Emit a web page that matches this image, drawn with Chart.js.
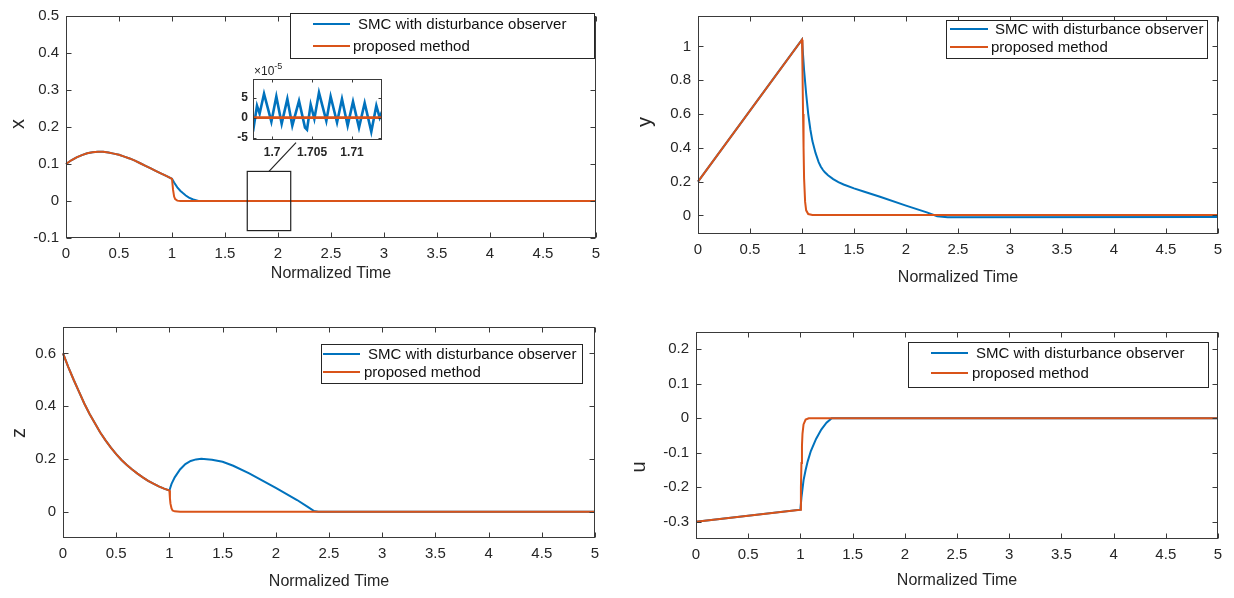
<!DOCTYPE html>
<html><head><meta charset="utf-8">
<script src="https://cdn.jsdelivr.net/npm/chart.js@4.4.1/dist/chart.umd.min.js"></script>
<style>
html,body{margin:0;padding:0;background:#fff;}
#wrap{position:relative;width:1234px;height:598px;overflow:hidden;background:#fff;}
canvas{position:absolute;}
</style></head><body>
<div id="wrap">
<canvas id="cX" width="617" height="298" style="left:0;top:0"></canvas>
<canvas id="cY" width="614" height="298" style="left:620px;top:0"></canvas>
<canvas id="cZ" width="617" height="298" style="left:0;top:300px"></canvas>
<canvas id="cU" width="614" height="298" style="left:620px;top:300px"></canvas>
<canvas id="cIn" width="166" height="102" style="left:222px;top:60px"></canvas>
</div>
<script>
// ---------- data ----------
const seriesLabels = ['SMC with disturbance observer', 'proposed method'];
const xTicks = [0,0.5,1,1.5,2,2.5,3,3.5,4,4.5,5];

// x(t)
const tXsmc = [0,0.05,0.1,0.15,0.2,0.25,0.3,0.35,0.4,0.45,0.5,0.55,0.6,0.65,0.7,0.75,0.8,0.85,0.9,0.95,1.0,1.02,1.05,1.08,1.1,1.13,1.16,1.2,1.25,5];
const xSMC  = [0.100,0.110,0.118,0.124,0.129,0.132,0.133,0.133,0.131,0.128,0.125,0.120,0.115,0.109,0.102,0.095,0.088,0.081,0.074,0.067,0.060,0.050,0.037,0.027,0.022,0.015,0.009,0.004,0,0];
const tXpro = [0,0.05,0.1,0.15,0.2,0.25,0.3,0.35,0.4,0.45,0.5,0.55,0.6,0.65,0.7,0.75,0.8,0.85,0.9,0.95,1.0,1.01,1.02,1.03,1.05,1.08,5];
const xPro  = [0.100,0.110,0.118,0.124,0.129,0.132,0.133,0.133,0.131,0.128,0.125,0.120,0.115,0.109,0.102,0.095,0.088,0.081,0.074,0.067,0.060,0.030,0.012,0.005,0.001,0,0];
const yTicksX = [-0.1,0,0.1,0.2,0.3,0.4,0.5];

// inset of x(t), values in units of 1e-5
const tInset   = [1.6976,1.6981,1.69843,1.69898,1.6999,1.70052,1.70119,1.7019,1.70252,1.70336,1.70411,1.70436,1.70482,1.70528,1.70586,1.70678,1.70732,1.70812,1.70874,1.70945,1.71012,1.71087,1.71158,1.71241,1.71304,1.71346,1.71375];
const insetSMC = [-3.5,3,1,6,-1,5.3,-1.5,4.7,-2,4.2,-2.5,-3,3.3,-0.3,6.3,-0.8,5.3,-1.2,4.7,-2,4,-2.5,3.7,-3.5,3,0,1.5];
const tInsetPro = [1.6976,1.71375];
const insetPro  = [0,0];
const insetXTicks = [1.7,1.705,1.71];
const insetYTicks = [-5,0,5];

// y(t)
const tYsmc = [0,1.0,1.01,1.02,1.04,1.06,1.08,1.1,1.13,1.16,1.18,1.2,1.22,1.25,1.3,1.35,1.4,1.5,1.6,1.75,2.0,2.2,2.3,2.4,5];
const ySMC  = [0.2,1.04,0.95,0.86,0.72,0.6,0.51,0.44,0.37,0.315,0.29,0.27,0.255,0.238,0.215,0.197,0.183,0.16,0.14,0.11,0.058,0.018,-0.005,-0.011,-0.01];
const tYpro = [0,1.0,1.005,1.01,1.015,1.02,1.03,1.04,1.06,1.1,5];
const yPro  = [0.2,1.04,0.85,0.6,0.4,0.22,0.08,0.03,0.008,0.002,0.002];
const yTicksY = [0,0.2,0.4,0.6,0.8,1];

// z(t)
const tZcommon = [0,0.05,0.1,0.15,0.2,0.25,0.3,0.35,0.4,0.45,0.5,0.55,0.6,0.65,0.7,0.75,0.8,0.85,0.9,0.95,1.0];
const zCommon  = [0.6,0.548,0.5,0.455,0.41,0.37,0.335,0.30,0.27,0.243,0.218,0.196,0.177,0.16,0.144,0.13,0.117,0.106,0.096,0.087,0.08];
const tZsmcTail = [1.02,1.05,1.1,1.15,1.2,1.25,1.3,1.35,1.4,1.5,1.6,1.75,2.0,2.2,2.3,2.36,2.4,5];
const zSMCtail  = [0.105,0.13,0.16,0.18,0.192,0.198,0.2,0.199,0.197,0.189,0.174,0.145,0.09,0.044,0.018,0.002,0,0];
const tZproTail = [1.005,1.01,1.02,1.03,1.05,1.1,5];
const zProTail  = [0.05,0.03,0.012,0.004,0.001,0,0];
const yTicksZ = [0,0.2,0.4,0.6];

// u(t)
const tUsmc = [0,1.0,1.01,1.03,1.05,1.07,1.1,1.15,1.2,1.25,1.3,5];
const uSMC  = [-0.3,-0.265,-0.23,-0.18,-0.15,-0.125,-0.095,-0.06,-0.033,-0.013,0,0];
const tUpro = [0,1.0,1.005,1.01,1.015,1.02,1.03,1.05,1.08,5];
const uPro  = [-0.3,-0.265,-0.2,-0.13,-0.08,-0.045,-0.018,-0.004,0,0];
const yTicksU = [-0.3,-0.2,-0.1,0,0.1,0.2];

// zoom marker in x(t) plot: rectangle [t0,t1,v0,v1] and connector [t,v,t,v]
const zoomRect = [1.71,2.12,-0.08,0.08];
const zoomLink = [1.915,0.08,2.17,0.158];

// ---------- drawing ----------
const BLUE = '#0072BD', ORANGE = '#D95319';
const TXT = '#262626', AX = '#3a3a3a';
const FONT = "'Liberation Sans', Arial, Helvetica, sans-serif";

function pts(t, v){ return t.map((x,i)=>({x:x, y:v[i]})); }
function fmt(v){ return String(Number(v.toFixed(4))); }

function line(ctx,x1,y1,x2,y2){ ctx.beginPath(); ctx.moveTo(x1,y1); ctx.lineTo(x2,y2); ctx.stroke(); }

function makePlugin(c){
  return {
    id:'matlab_'+c.id,
    beforeDatasetsDraw(chart){
      const {ctx, chartArea:a} = chart;
      ctx.save(); ctx.fillStyle='#fff'; ctx.fillRect(a.left,a.top,a.right-a.left,a.bottom-a.top); ctx.restore();
    },
    afterDatasetsDraw(chart){
      const {ctx, chartArea:a, scales:{x,y}} = chart;
      ctx.save();
      ctx.strokeStyle = AX; ctx.lineWidth = 1;
      const L = Math.round(a.left)+0.5, R = Math.round(a.right)-0.5, T = Math.round(a.top)+0.5, B = Math.round(a.bottom)-0.5;
      ctx.strokeRect(L, T, R-L, B-T);
      const tl = c.tickLen || 5;
      x.ticks.forEach(t=>{ const p = Math.round(x.getPixelForValue(t.value))+0.5; line(ctx,p,B,p,B-tl); line(ctx,p,T,p,T+tl); });
      y.ticks.forEach(t=>{ const p = Math.round(y.getPixelForValue(t.value))+0.5; line(ctx,L,p,L+tl,p); line(ctx,R,p,R-tl,p); });
      if (c.rect){
        const r = c.rect, k = c.link;
        ctx.strokeStyle = '#222'; ctx.lineWidth = 1.2;
        const x0 = x.getPixelForValue(r[0]), x1 = x.getPixelForValue(r[1]);
        const y0 = y.getPixelForValue(r[2]), y1 = y.getPixelForValue(r[3]);
        ctx.strokeRect(x0, y1, x1-x0, y0-y1);
        line(ctx, x.getPixelForValue(k[0]), y.getPixelForValue(k[1]), x.getPixelForValue(k[2]), y.getPixelForValue(k[3]));
      }
      if (c.exp){
        ctx.fillStyle = TXT; ctx.textBaseline='alphabetic'; ctx.textAlign='left';
        ctx.font = '12px '+FONT; ctx.fillText('\u00d710', c.exp[0], c.exp[1]);
        const w = ctx.measureText('\u00d710').width;
        ctx.font = '9px '+FONT; ctx.fillText('-5', c.exp[0]+w, c.exp[1]-6);
      }
      if (c.ylabel){
        ctx.fillStyle = TXT; ctx.font = '20px '+FONT; ctx.textAlign='center'; ctx.textBaseline='middle';
        ctx.save(); ctx.translate(c.ylabelPos[0], c.ylabelPos[1]); ctx.rotate(-Math.PI/2); ctx.fillText(c.ylabel,0,0); ctx.restore();
      }
      if (c.xlabel){
        ctx.fillStyle = TXT; ctx.font = '16px '+FONT; ctx.textAlign='center'; ctx.textBaseline='middle';
        ctx.fillText(c.xlabel, (a.left+a.right)/2, c.xlabelY);
      }
      ctx.restore();
    },
    afterDraw(chart){
      if (!c.legend) return;
      const g = c.legend, ctx = chart.ctx;
      ctx.save();
      ctx.fillStyle = '#fff'; ctx.fillRect(g.box[0], g.box[1], g.box[2]-g.box[0], g.box[3]-g.box[1]);
      ctx.strokeStyle = '#262626'; ctx.lineWidth = 1;
      ctx.strokeRect(g.box[0]+0.5, g.box[1]+0.5, g.box[2]-g.box[0], g.box[3]-g.box[1]);
      ctx.font = '15px '+FONT; ctx.textBaseline='middle'; ctx.textAlign='left';
      chart.data.datasets.forEach((ds,i)=>{
        const row = g.rows[i];
        ctx.strokeStyle = ds.borderColor; ctx.lineWidth = 2.2;
        line(ctx, g.line[0], row[0], g.line[1], row[0]);
        ctx.fillStyle = '#111';
        ctx.fillText(ds.label, row[1], row[0]+1);
      });
      ctx.restore();
    }
  };
}

function makeChart(c){
  const ds = c.series.map(s=>({
    label:s.label, data:pts(s.t,s.v), borderColor:s.color, backgroundColor:s.color,
    borderWidth:s.width||2, pointRadius:0, tension:0, fill:false, order:s.order, clip:c.clip||false
  }));
  return new Chart(document.getElementById(c.id), {
    type:'line',
    data:{datasets:ds},
    options:{
      responsive:false, animation:false, events:[],
      layout:{padding:{left:0, top:c.padTop, right:c.padRight, bottom:0}},
      plugins:{legend:{display:false}, tooltip:{enabled:false}},
      scales:{
        x:{type:'linear', min:c.xMin, max:c.xMax,
           grid:{display:false, drawTicks:false}, border:{display:false},
           afterBuildTicks:s=>{ s.ticks = c.xTicks.map(v=>({value:v})); },
           afterFit:s=>{ s.height = c.xHeight; },
           ticks:{autoSkip:false, maxRotation:0, padding:c.xPad, color:TXT,
                  font:{family:FONT, size:c.tickSize, weight:c.tickWeight||'normal'}, callback:v=>fmt(v)}},
        y:{type:'linear', min:c.yMin, max:c.yMax,
           grid:{display:false, drawTicks:false}, border:{display:false},
           afterBuildTicks:s=>{ s.ticks = c.yTicks.map(v=>({value:v})); },
           afterFit:s=>{ s.width = c.yWidth; },
           ticks:{autoSkip:false, padding:c.yPad, color:TXT,
                  font:{family:FONT, size:c.tickSize, weight:c.tickWeight||'normal'}, callback:v=>fmt(v)}}
      }
    },
    plugins:[makePlugin(c)]
  });
}

// top-left: x
makeChart({id:'cX', xMin:0, xMax:5, yMin:-0.1, yMax:0.5, xTicks:xTicks, yTicks:yTicksX,
  yWidth:66, xHeight:60, padTop:10, padRight:21, xPad:7, yPad:7, tickSize:15,
  series:[{label:seriesLabels[0], t:tXsmc, v:xSMC, color:BLUE, order:1},
          {label:seriesLabels[1], t:tXpro, v:xPro, color:ORANGE, order:0}],
  ylabel:'x', ylabelPos:[18,124], xlabel:'Normalized Time', xlabelY:274,
  rect:zoomRect, link:zoomLink,
  legend:{box:[290,13,594,58], line:[313,350], rows:[[24,358],[46,353]]}});

// top-right: y
makeChart({id:'cY', xMin:0, xMax:5, yMin:-0.11, yMax:1.18, xTicks:xTicks, yTicks:yTicksY,
  yWidth:78, xHeight:64, padTop:9, padRight:16, xPad:7, yPad:7, tickSize:15,
  series:[{label:seriesLabels[0], t:tYsmc, v:ySMC, color:BLUE, order:1},
          {label:seriesLabels[1], t:tYpro, v:yPro, color:ORANGE, order:0}],
  ylabel:'y', ylabelPos:[25,122], xlabel:'Normalized Time', xlabelY:278,
  legend:{box:[326,20,587,58], line:[330,368], rows:[[29,375],[47,371]]}});

// bottom-left: z
makeChart({id:'cZ', xMin:0, xMax:5, yMin:-0.1, yMax:0.7, xTicks:xTicks, yTicks:yTicksZ,
  yWidth:63, xHeight:60, padTop:27, padRight:22, xPad:7, yPad:7, tickSize:15,
  series:[{label:seriesLabels[0], t:tZcommon.concat(tZsmcTail), v:zCommon.concat(zSMCtail), color:BLUE, order:1},
          {label:seriesLabels[1], t:tZcommon.concat(tZproTail), v:zCommon.concat(zProTail), color:ORANGE, order:0}],
  ylabel:'z', ylabelPos:[19,133], xlabel:'Normalized Time', xlabelY:282,
  legend:{box:[321,44,582,83], line:[323,360], rows:[[54,368],[72,364]]}});

// bottom-right: u
makeChart({id:'cU', xMin:0, xMax:5, yMin:-0.35, yMax:0.25, xTicks:xTicks, yTicks:yTicksU,
  yWidth:76, xHeight:59, padTop:32, padRight:16, xPad:7, yPad:7, tickSize:15,
  series:[{label:seriesLabels[0], t:tUsmc, v:uSMC, color:BLUE, order:1},
          {label:seriesLabels[1], t:tUpro, v:uPro, color:ORANGE, order:0}],
  ylabel:'u', ylabelPos:[19,167], xlabel:'Normalized Time', xlabelY:281,
  legend:{box:[288,42,588,87], line:[311,348], rows:[[53,356],[73,352]]}});

// inset
makeChart({id:'cIn', xMin:1.6976, xMax:1.71375, yMin:-5.6, yMax:9.7, xTicks:insetXTicks, yTicks:insetYTicks,
  yWidth:31, xHeight:22, padTop:19, padRight:6, xPad:5, yPad:5, tickSize:12, tickWeight:'bold', tickLen:3, clip:true,
  series:[{label:seriesLabels[0], t:tInset, v:insetSMC, color:BLUE, order:1, width:2.6},
          {label:seriesLabels[1], t:tInsetPro, v:insetPro, color:ORANGE, order:0, width:2.6}],
  exp:[32,15]});
</script>
</body></html>
